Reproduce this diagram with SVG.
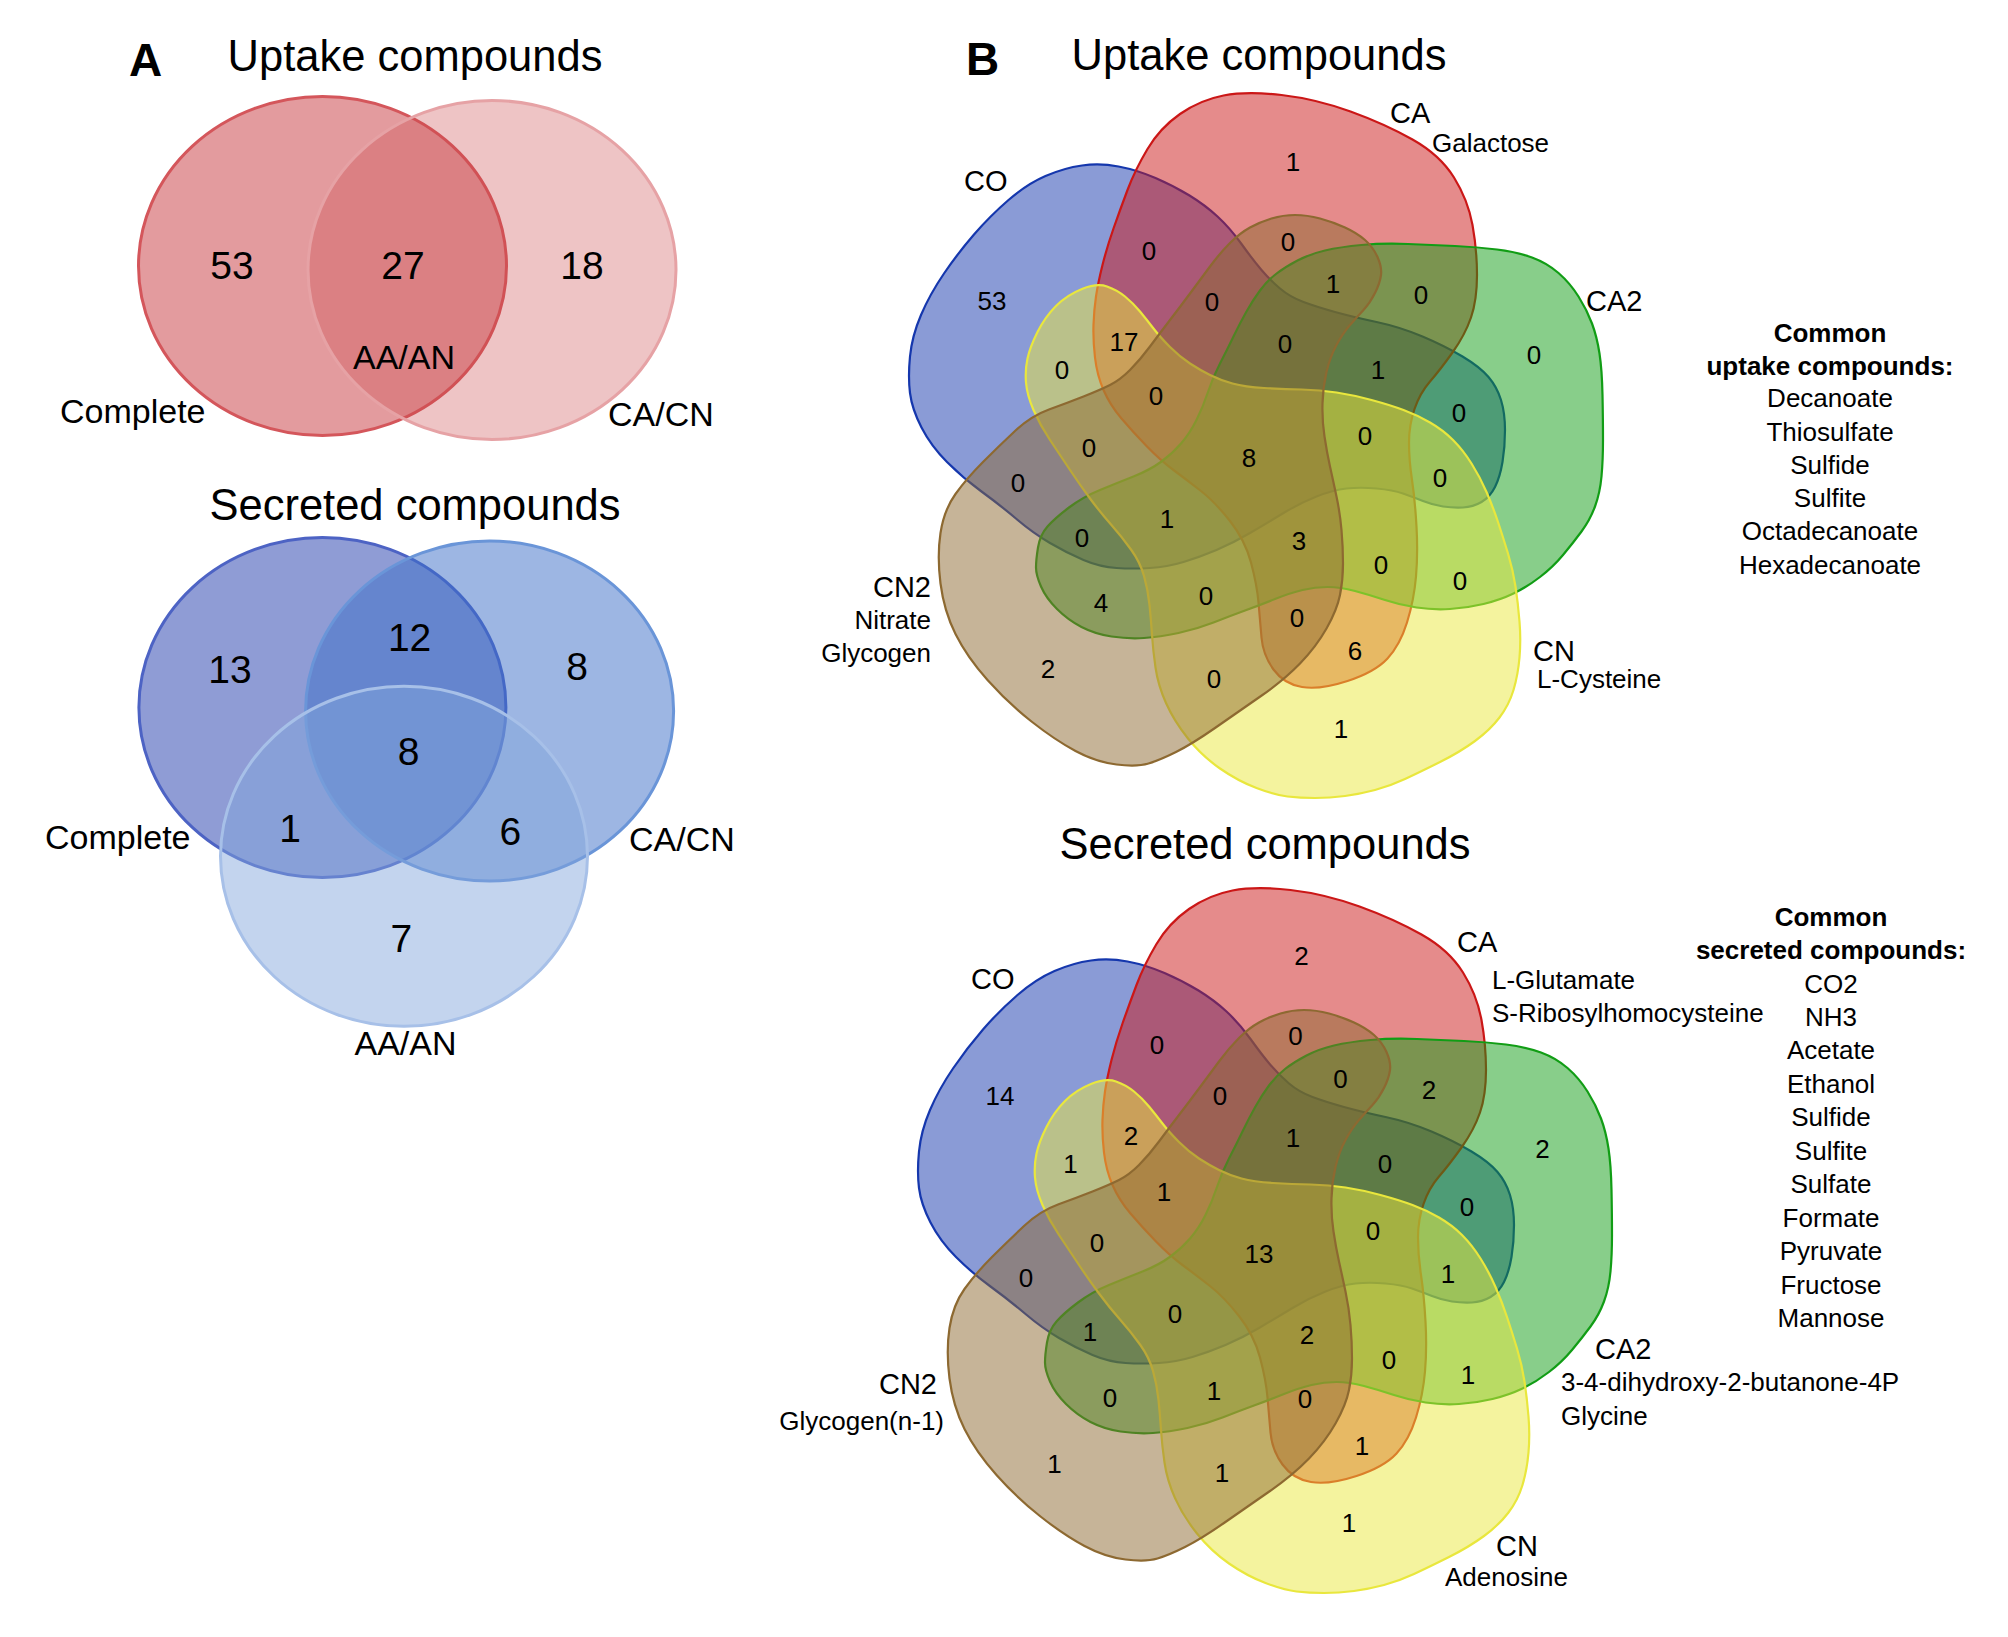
<svg xmlns="http://www.w3.org/2000/svg" xmlns:xlink="http://www.w3.org/1999/xlink" width="2008" height="1637" viewBox="0 0 2008 1637">
<style>
text{font-family:"Liberation Sans",Arial,sans-serif;fill:#000}
.title{font-size:43.5px;text-anchor:middle}
.pl{font-size:46px;font-weight:bold}
.na{font-size:39px;text-anchor:middle}
.la{font-size:34px}
.nb{font-size:26px;text-anchor:middle}
.sl{font-size:29px}
.cp{font-size:26px}
.lst{font-size:26px;text-anchor:middle}
.hd{font-weight:bold}
.end{text-anchor:end}
.mid{text-anchor:middle}
.co{fill:#1537ad;fill-opacity:.5;stroke:#1537ad;stroke-width:2.2}
.ca{fill:#cb1717;fill-opacity:.5;stroke:#cb1717;stroke-width:2.2}
.ca2{fill:#119d15;fill-opacity:.5;stroke:#119d15;stroke-width:2.2}
.cn{fill:#e9e73d;fill-opacity:.5;stroke:#e9e73d;stroke-width:2.2}
.cn2{fill:#8d6931;fill-opacity:.5;stroke:#8d6931;stroke-width:2.2}
</style>
<defs>
<path id="pCO" d="M1118.5,166.5 Q1137,170 1155.5,178 Q1174,186 1189.5,195.5 Q1205,205 1217.5,216.5 Q1230,228 1241.5,244 Q1253,260 1261.5,270 Q1270,280 1280,288.5 Q1290,297 1303.5,302 Q1317,307 1335,312 Q1353,317 1376.5,322 Q1400,327 1422.5,336.5 Q1445,346 1462.5,356.5 Q1480,367 1488.5,377 Q1497,387 1501,400 Q1505,413 1505,430 Q1505,447 1502.5,462 Q1500,477 1495,487 Q1490,497 1481.5,502 Q1473,507 1463,507.5 Q1453,508 1443,506.5 Q1433,505 1423,501 Q1413,497 1403,493.5 Q1393,490 1376.5,488.5 Q1360,487 1346.5,488.5 Q1333,490 1316.5,496.5 Q1300,503 1283.5,513 Q1267,523 1250,533 Q1233,543 1216.5,550 Q1200,557 1183.5,562 Q1167,567 1150,568 Q1133,569 1116.5,568 Q1100,567 1083.5,560 Q1067,553 1050,543 Q1033,533 1016.5,519 Q1000,505 981.5,491.5 Q963,478 947,462 Q931,446 921.5,427.5 Q912,409 910,393 Q908,377 910,356.5 Q912,336 921,315 Q930,294 944,273.5 Q958,253 974,234.5 Q990,216 1008.5,200 Q1027,184 1045.5,176 Q1064,168 1082,165.5 Q1100,163 1118.5,166.5 Z"/>
<path id="pCA" d="M1102.5,265 Q1107,247 1113.5,228.5 Q1120,210 1127.5,190 Q1135,170 1147.5,149 Q1160,128 1180,114 Q1200,100 1223.5,95.5 Q1247,91 1281.5,95 Q1316,99 1350.5,111.5 Q1385,124 1412.5,139.5 Q1440,155 1454,177.5 Q1468,200 1472.5,225 Q1477,250 1477,275 Q1477,300 1471,317.5 Q1465,335 1452.5,352.5 Q1440,370 1430,381.5 Q1420,393 1414.5,409 Q1409,425 1409,442.5 Q1409,460 1412,480 Q1415,500 1416.5,526.5 Q1418,553 1416,576.5 Q1414,600 1407,622.5 Q1400,645 1387.5,658.5 Q1375,672 1347.5,681 Q1320,690 1302,687 Q1284,684 1273.5,669.5 Q1263,655 1261.5,637.5 Q1260,620 1258.5,602.5 Q1257,585 1251,562.5 Q1245,540 1230,521 Q1215,502 1201,491 Q1187,480 1173.5,470 Q1160,460 1146.5,446 Q1133,432 1121.5,418.5 Q1110,405 1103.5,390 Q1097,375 1095,357.5 Q1093,340 1093.5,325 Q1094,310 1096,296.5 Q1098,283 1102.5,265 Z"/>
<path id="pCA2" d="M1038,547.5 Q1040,535 1047.5,526.5 Q1055,518 1069,507.5 Q1083,497 1100,490 Q1117,483 1133.5,476.5 Q1150,470 1161.5,461.5 Q1173,453 1181.5,443 Q1190,433 1196.5,420 Q1203,407 1208,392 Q1213,377 1220,363.5 Q1227,350 1233.5,336.5 Q1240,323 1246.5,311.5 Q1253,300 1260,290.5 Q1267,281 1276,274 Q1285,267 1297.5,260.5 Q1310,254 1325,250.5 Q1340,247 1361.5,245 Q1383,243 1408,244 Q1433,245 1455,246 Q1477,247 1497,249.5 Q1517,252 1532,257.5 Q1547,263 1558.5,273 Q1570,283 1578.5,296.5 Q1587,310 1592,323.5 Q1597,337 1599.5,353.5 Q1602,370 1602.5,395 Q1603,420 1603,440 Q1603,460 1601.5,476.5 Q1600,493 1595,506.5 Q1590,520 1581.5,531.5 Q1573,543 1563,555 Q1553,567 1540,577 Q1527,587 1513.5,593.5 Q1500,600 1483.5,604 Q1467,608 1450,609 Q1433,610 1416.5,607.5 Q1400,605 1385,600 Q1370,595 1355,591 Q1340,587 1327.5,587 Q1315,587 1302.5,590 Q1290,593 1275,599 Q1260,605 1245,610.5 Q1230,616 1213.5,622.5 Q1197,629 1178.5,633 Q1160,637 1144,638 Q1128,639 1111.5,636.5 Q1095,634 1081.5,627 Q1068,620 1057,609 Q1046,598 1041,586.5 Q1036,575 1036,567.5 Q1036,560 1038,547.5 Z"/>
<path id="pCN" d="M1107,286.5 Q1117,290 1125,296.5 Q1133,303 1140,311.5 Q1147,320 1153.5,328.5 Q1160,337 1170,347 Q1180,357 1190,363.5 Q1200,370 1210,375 Q1220,380 1232.5,383.5 Q1245,387 1264,388 Q1283,389 1301.5,389.5 Q1320,390 1336.5,392.5 Q1353,395 1371.5,400 Q1390,405 1403.5,410 Q1417,415 1430,422.5 Q1443,430 1453,440 Q1463,450 1471.5,463.5 Q1480,477 1486.5,492 Q1493,507 1498,522 Q1503,537 1508,553.5 Q1513,570 1515.5,586.5 Q1518,603 1519.5,621.5 Q1521,640 1519.5,657.5 Q1518,675 1513.5,690 Q1509,705 1499.5,717.5 Q1490,730 1475,741 Q1460,752 1440,762 Q1420,772 1405,779 Q1390,786 1375,790 Q1360,794 1345,796 Q1330,798 1315,798 Q1300,798 1287.5,796.5 Q1275,795 1256.5,788 Q1238,781 1220,768.5 Q1202,756 1188,738.5 Q1174,721 1166,703 Q1158,685 1155.5,667.5 Q1153,650 1152,635 Q1151,620 1149.5,605 Q1148,590 1144,576 Q1140,562 1131,549.5 Q1122,537 1111,524.5 Q1100,512 1090,498.5 Q1080,485 1070,470 Q1060,455 1050,440 Q1040,425 1033.5,410 Q1027,395 1026,382.5 Q1025,370 1027.5,358.5 Q1030,347 1037.5,332 Q1045,317 1056,306 Q1067,295 1082,289 Q1097,283 1107,286.5 Z"/>
<path id="pCN2" d="M1271.5,218.5 Q1283,215 1295,215 Q1307,215 1320,218.5 Q1333,222 1345,227.5 Q1357,233 1365,240 Q1373,247 1377.5,257 Q1382,267 1381,275 Q1380,283 1375,293 Q1370,303 1363.5,310 Q1357,317 1350,325 Q1343,333 1336.5,345 Q1330,357 1326.5,372 Q1323,387 1322.5,403.5 Q1322,420 1324.5,436.5 Q1327,453 1330,466.5 Q1333,480 1336.5,496.5 Q1340,513 1341.5,530 Q1343,547 1343,563.5 Q1343,580 1340,595 Q1337,610 1326.5,628.5 Q1316,647 1300,663.5 Q1284,680 1261,696 Q1238,712 1215,728 Q1192,744 1176,752 Q1160,760 1148.5,763.5 Q1137,767 1116.5,764.5 Q1096,762 1075.5,751 Q1055,740 1031.5,721.5 Q1008,703 987.5,680 Q967,657 955.5,634 Q944,611 940.5,583.5 Q937,556 940.5,533 Q944,510 955.5,494 Q967,478 983,462 Q999,446 1015,431 Q1031,416 1049,409.5 Q1067,403 1083.5,396.5 Q1100,390 1110,385 Q1120,380 1130,370 Q1140,360 1150,346.5 Q1160,333 1170,320 Q1180,307 1190,293.5 Q1200,280 1210,266.5 Q1220,253 1230,243 Q1240,233 1250,227.5 Q1260,222 1271.5,218.5 Z"/>
</defs>
<rect width="2008" height="1637" fill="#fff"/>

<g id="panelA-uptake">
<text class="pl" x="129" y="76">A</text>
<text class="title" x="415" y="71">Uptake compounds</text>
<ellipse id="a-up-complete" cx="322.5" cy="266" rx="184" ry="169.5" fill="#cb464b" fill-opacity=".54" stroke="#d4565b" stroke-width="3"/>
<ellipse id="a-up-cacn" cx="492" cy="270" rx="184" ry="169.5" fill="#cb464b" fill-opacity=".32" stroke="#e6a2a5" stroke-width="3"/>
<text class="na" x="232" y="279">53</text>
<text class="na" x="403" y="279">27</text>
<text class="na" x="582" y="279">18</text>
<text class="la mid" x="404" y="369">AA/AN</text>
<text class="la" x="60" y="423">Complete</text>
<text class="la" x="608" y="426">CA/CN</text>
</g>

<g id="panelA-secreted">
<text class="title" x="415" y="520">Secreted compounds</text>
<ellipse id="a-se-complete" cx="322.4" cy="707.5" rx="183.5" ry="170" fill="#3048b2" fill-opacity=".54" stroke="#4d63c4" stroke-width="3"/>
<ellipse id="a-se-cacn" cx="489.6" cy="711" rx="184" ry="170" fill="#3c6ec8" fill-opacity=".5" stroke="#6a95d8" stroke-width="3"/>
<ellipse id="a-se-aaan" cx="404" cy="856.3" rx="183.5" ry="170" fill="#82a5dc" fill-opacity=".48" stroke="#a7c0e8" stroke-width="3"/>
<text class="na" x="230" y="683">13</text>
<text class="na" x="409.6" y="651">12</text>
<text class="na" x="577" y="680">8</text>
<text class="na" x="408.6" y="765">8</text>
<text class="na" x="290" y="842">1</text>
<text class="na" x="510.4" y="845">6</text>
<text class="na" x="401.4" y="952">7</text>
<text class="la" x="45" y="848.5">Complete</text>
<text class="la" x="629" y="851">CA/CN</text>
<text class="la mid" x="405.5" y="1055">AA/AN</text>
</g>

<g id="panelB-uptake">
<text class="pl" x="966" y="75">B</text>
<text class="title" x="1259" y="70">Uptake compounds</text>
<g id="b-up-sets">
<use href="#pCO" class="co"/>
<use href="#pCA" class="ca"/>
<use href="#pCA2" class="ca2"/>
<use href="#pCN" class="cn"/>
<use href="#pCN2" class="cn2"/>
</g>
<g id="b-up-counts">
<text class="nb" x="1293" y="170.5">1</text>
<text class="nb" x="1534" y="363.5">0</text>
<text class="nb" x="992" y="309.5">53</text>
<text class="nb" x="1149" y="259.5">0</text>
<text class="nb" x="1288" y="250.5">0</text>
<text class="nb" x="1333" y="292.5">1</text>
<text class="nb" x="1421" y="303.5">0</text>
<text class="nb" x="1212" y="310.5">0</text>
<text class="nb" x="1124" y="350.5">17</text>
<text class="nb" x="1285" y="352.5">0</text>
<text class="nb" x="1378" y="378.5">1</text>
<text class="nb" x="1062" y="378.5">0</text>
<text class="nb" x="1156" y="404.5">0</text>
<text class="nb" x="1459" y="421.5">0</text>
<text class="nb" x="1365" y="444.5">0</text>
<text class="nb" x="1249" y="466.5">8</text>
<text class="nb" x="1089" y="456.5">0</text>
<text class="nb" x="1440" y="486.5">0</text>
<text class="nb" x="1018" y="491.5">0</text>
<text class="nb" x="1167" y="527.5">1</text>
<text class="nb" x="1299" y="549.5">3</text>
<text class="nb" x="1082" y="546.5">0</text>
<text class="nb" x="1381" y="573.5">0</text>
<text class="nb" x="1460" y="589.5">0</text>
<text class="nb" x="1101" y="611.5">4</text>
<text class="nb" x="1206" y="604.5">0</text>
<text class="nb" x="1297" y="626.5">0</text>
<text class="nb" x="1355" y="659.5">6</text>
<text class="nb" x="1048" y="677.5">2</text>
<text class="nb" x="1214" y="687.5">0</text>
<text class="nb" x="1341" y="737.5">1</text>
</g>
<g id="b-up-labels">
<text class="sl" x="964" y="191">CO</text>
<text class="sl" x="1390" y="123">CA</text>
<text class="cp" x="1432" y="152">Galactose</text>
<text class="sl" x="1586" y="311">CA2</text>
<text class="sl end" x="931" y="597">CN2</text>
<text class="cp end" x="931" y="629">Nitrate</text>
<text class="cp end" x="931" y="662">Glycogen</text>
<text class="sl" x="1533" y="661">CN</text>
<text class="cp" x="1537" y="688">L-Cysteine</text>
</g>
</g>

<g id="common-uptake">
<text class="lst hd" x="1830" y="342">Common</text>
<text class="lst hd" x="1830" y="375">uptake compounds:</text>
<text class="lst" x="1830" y="407">Decanoate</text>
<text class="lst" x="1830" y="440.5">Thiosulfate</text>
<text class="lst" x="1830" y="474">Sulfide</text>
<text class="lst" x="1830" y="507">Sulfite</text>
<text class="lst" x="1830" y="540">Octadecanoate</text>
<text class="lst" x="1830" y="573.5">Hexadecanoate</text>
</g>

<g id="panelB-secreted">
<text class="title" x="1265" y="859">Secreted compounds</text>
<g id="b-se-sets" transform="translate(9,795)">
<use href="#pCO" class="co"/>
<use href="#pCA" class="ca"/>
<use href="#pCA2" class="ca2"/>
<use href="#pCN" class="cn"/>
<use href="#pCN2" class="cn2"/>
</g>
<g id="b-se-counts">
<text class="nb" x="1301.5" y="964.5">2</text>
<text class="nb" x="1157" y="1053.5">0</text>
<text class="nb" x="1295.5" y="1044.5">0</text>
<text class="nb" x="1000" y="1104.5">14</text>
<text class="nb" x="1340.5" y="1087.5">0</text>
<text class="nb" x="1429" y="1098.5">2</text>
<text class="nb" x="1220" y="1104.5">0</text>
<text class="nb" x="1542.5" y="1157.5">2</text>
<text class="nb" x="1293" y="1146.5">1</text>
<text class="nb" x="1131" y="1144.5">2</text>
<text class="nb" x="1070.5" y="1172.5">1</text>
<text class="nb" x="1385" y="1172.5">0</text>
<text class="nb" x="1164" y="1200.5">1</text>
<text class="nb" x="1467" y="1215.5">0</text>
<text class="nb" x="1373" y="1239.5">0</text>
<text class="nb" x="1259" y="1262.5">13</text>
<text class="nb" x="1097" y="1251.5">0</text>
<text class="nb" x="1448" y="1282.5">1</text>
<text class="nb" x="1026" y="1286.5">0</text>
<text class="nb" x="1175" y="1323">0</text>
<text class="nb" x="1307" y="1343.5">2</text>
<text class="nb" x="1090" y="1340.5">1</text>
<text class="nb" x="1389" y="1368.5">0</text>
<text class="nb" x="1468" y="1383.5">1</text>
<text class="nb" x="1214" y="1399.5">1</text>
<text class="nb" x="1110" y="1406.5">0</text>
<text class="nb" x="1305" y="1407.5">0</text>
<text class="nb" x="1362" y="1454.5">1</text>
<text class="nb" x="1054.5" y="1472.5">1</text>
<text class="nb" x="1222" y="1481.5">1</text>
<text class="nb" x="1349" y="1532">1</text>
</g>
<g id="b-se-labels">
<text class="sl" x="971" y="989">CO</text>
<text class="sl" x="1457" y="952">CA</text>
<text class="cp" x="1492" y="989">L-Glutamate</text>
<text class="cp" x="1492" y="1022">S-Ribosylhomocysteine</text>
<text class="sl" x="1595" y="1359">CA2</text>
<text class="cp" x="1561" y="1391">3-4-dihydroxy-2-butanone-4P</text>
<text class="cp" x="1561" y="1425">Glycine</text>
<text class="sl end" x="937" y="1394">CN2</text>
<text class="cp end" x="944" y="1430">Glycogen(n-1)</text>
<text class="sl" x="1496" y="1556">CN</text>
<text class="cp" x="1445" y="1586">Adenosine</text>
</g>
</g>

<g id="common-secreted">
<text class="lst hd" x="1831" y="926">Common</text>
<text class="lst hd" x="1831" y="959">secreted compounds:</text>
<text class="lst" x="1831" y="992.5">CO2</text>
<text class="lst" x="1831" y="1026">NH3</text>
<text class="lst" x="1831" y="1059">Acetate</text>
<text class="lst" x="1831" y="1092.5">Ethanol</text>
<text class="lst" x="1831" y="1126">Sulfide</text>
<text class="lst" x="1831" y="1159.5">Sulfite</text>
<text class="lst" x="1831" y="1193">Sulfate</text>
<text class="lst" x="1831" y="1226.5">Formate</text>
<text class="lst" x="1831" y="1260">Pyruvate</text>
<text class="lst" x="1831" y="1293.5">Fructose</text>
<text class="lst" x="1831" y="1327">Mannose</text>
</g>
</svg>
